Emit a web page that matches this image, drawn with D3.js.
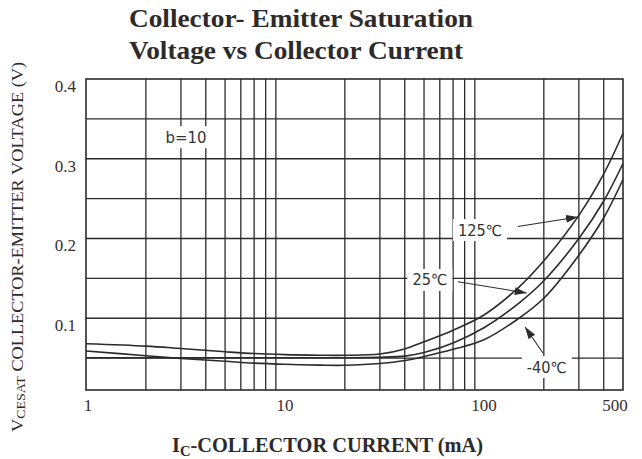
<!DOCTYPE html>
<html>
<head>
<meta charset="utf-8">
<script src="https://cdn.jsdelivr.net/npm/d3@7"></script>
<style>
  html, body { margin: 0; padding: 0; background: #fff; }
  svg { display: block; }
</style>
</head>
<body>
<svg id="chart" width="642" height="459"></svg>
<script>
// ---- data ----
const currents = [1, 2, 3, 5, 7, 10, 15, 20, 30, 40, 50, 70, 100, 150, 200, 300, 400, 500];
const v125 = [0.068, 0.065, 0.062, 0.058, 0.0557, 0.0543, 0.0536, 0.0535, 0.0552, 0.0615, 0.0705, 0.085, 0.104, 0.139, 0.172, 0.229, 0.281, 0.332];
const v25  = [0.0505, 0.0505, 0.0505, 0.0505, 0.0505, 0.0505, 0.0505, 0.0505, 0.051, 0.0525, 0.057, 0.069, 0.088, 0.119, 0.147, 0.200, 0.247, 0.294];
const vm40 = [0.059, 0.053, 0.0495, 0.046, 0.0437, 0.0422, 0.0412, 0.041, 0.0432, 0.047, 0.052, 0.061, 0.073, 0.100, 0.125, 0.179, 0.226, 0.274];
const seriesNames = ["125℃", "25℃", "-40℃"];
const xTickLabels = [1, 10, 100, 500];
const xGrid = [2, 3, 4, 5, 6, 7, 8, 9, 20, 30, 40, 50, 60, 70, 80, 90, 200, 300, 400];
const yTickLabels = [0.1, 0.2, 0.3, 0.4];
const yGrid = [0.05, 0.1, 0.15, 0.2, 0.25, 0.3, 0.35];
const xDomain = [1, 500];
const yDomain = [0.01, 0.4];
// annotations in data units: label position, arrow tail, arrow tip
const annLabels = [
  { text: "b=10", at: [3.18, 0.327], w: 41 },
  { text: "125℃", at: [95.5, 0.2106], w: 44, tail: [148, 0.215], tip: [297, 0.227] },
  { text: "25℃", at: [53.5, 0.148], w: 35, tail: [74, 0.1458], tip: [164, 0.1316] },
  { text: "-40℃", at: [207, 0.0388], w: 40, tail: [198, 0.0564], tip: [161, 0.089] }
];

// ---- layout ----
const svg = d3.select("#chart");
const L = 86, R = 623, T = 79, B = 390;
const x = d3.scaleLog().domain(xDomain).range([L, R]);
const y = d3.scaleLinear().domain(yDomain).range([B, T]);
const ink = "#2b2b2b";

// grid
const g = svg.append("g").attr("stroke", ink).attr("stroke-width", 1.3);
g.selectAll("line.vx").data(xGrid).join("line")
  .attr("x1", d => x(d)).attr("x2", d => x(d)).attr("y1", T).attr("y2", B);
g.selectAll("line.hy").data(yGrid).join("line")
  .attr("y1", d => y(d)).attr("y2", d => y(d)).attr("x1", L).attr("x2", R);
svg.append("rect").attr("x", L).attr("y", T).attr("width", R - L).attr("height", B - T)
  .attr("fill", "none").attr("stroke", ink).attr("stroke-width", 1.6);

// curves
const line = d3.line().x((d, i) => x(currents[i])).y(d => y(d)).curve(d3.curveCatmullRom.alpha(0.5));
svg.append("g").selectAll("path").data([v125, v25, vm40]).join("path")
  .attr("d", d => line(d)).attr("fill", "none").attr("stroke", ink).attr("stroke-width", 1.6);

// tick labels
const serif = "Liberation Serif, Times New Roman, serif";
svg.append("g").selectAll("text").data(yTickLabels).join("text")
  .attr("x", 76).attr("y", d => y(d) + 13)
  .attr("text-anchor", "end").attr("font-family", serif).attr("font-size", 17)
  .attr("fill", "#3a2c2c").text(d => d.toFixed(1));
svg.append("g").selectAll("text").data(xTickLabels).join("text")
  .attr("x", (d, i) => x(d) + (i === 0 ? 2 : i === xTickLabels.length - 1 ? -8 : 0))
  .attr("y", 411)
  .attr("text-anchor", "middle").attr("font-family", serif).attr("font-size", 17)
  .attr("fill", "#3a2c2c").text(d => d);

// annotations
svg.append("defs").append("marker")
  .attr("id", "ah").attr("viewBox", "0 0 12 8").attr("refX", 12).attr("refY", 4)
  .attr("markerWidth", 12).attr("markerHeight", 8).attr("markerUnits", "userSpaceOnUse")
  .attr("orient", "auto")
  .append("path").attr("d", "M0,0 L12,4 L0,8 Z").attr("fill", ink);

const ann = svg.append("g");
annLabels.forEach(a => {
  const cx = x(a.at[0]), cy = y(a.at[1]);
  ann.append("rect").attr("x", cx - a.w / 2 - 5).attr("y", cy - 11)
    .attr("width", a.w + 10).attr("height", 22).attr("fill", "#fff");
  ann.append("text").attr("x", cx).attr("y", cy + 5.5)
    .attr("text-anchor", "middle").attr("font-family", "DejaVu Sans, Verdana, sans-serif")
    .attr("font-size", 15).attr("fill", "#333")
    .attr("textLength", a.w).attr("lengthAdjust", "spacingAndGlyphs").text(a.text);
  if (a.tip) {
    ann.append("line").attr("x1", x(a.tail[0])).attr("y1", y(a.tail[1]))
      .attr("x2", x(a.tip[0])).attr("y2", y(a.tip[1]))
      .attr("stroke", ink).attr("stroke-width", 1.1).attr("marker-end", "url(#ah)");
  }
});

// titles
const title = ["Collector- Emitter Saturation", "Voltage vs Collector Current"];
const titleW = [344, 334];
svg.append("g").selectAll("text").data(title).join("text")
  .attr("x", 129).attr("y", (d, i) => 27 + i * 32)
  .attr("font-family", serif).attr("font-weight", "bold").attr("font-size", 26)
  .attr("fill", "#2e2a2a")
  .attr("textLength", (d, i) => titleW[i]).attr("lengthAdjust", "spacingAndGlyphs")
  .text(d => d);

// x axis label
const xl = svg.append("text").attr("x", 172).attr("y", 452)
  .attr("font-family", serif).attr("font-weight", "bold").attr("font-size", 21)
  .attr("fill", "#2e2a2a").attr("textLength", 311).attr("lengthAdjust", "spacingAndGlyphs");
xl.append("tspan").text("I");
xl.append("tspan").attr("font-size", 15).attr("dy", 4).text("C");
xl.append("tspan").attr("dy", -4).text("-COLLECTOR CURRENT (mA)");

// y axis label
const yl = svg.append("text").attr("transform", "translate(23,432) rotate(-90)")
  .attr("font-family", serif).attr("font-size", 17).attr("fill", "#2e2a2a")
  .attr("textLength", 370).attr("lengthAdjust", "spacingAndGlyphs");
yl.append("tspan").text("V");
yl.append("tspan").attr("font-size", 13).attr("dy", 2).text("CESAT");
yl.append("tspan").attr("dy", -2).text(" COLLECTOR-EMITTER VOLTAGE (V)");
</script>
</body>
</html>
